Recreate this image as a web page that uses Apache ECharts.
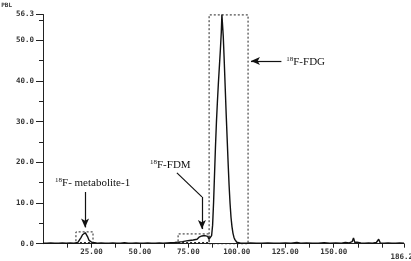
<!DOCTYPE html>
<html>
<head>
<meta charset="utf-8">
<script src="https://cdn.jsdelivr.net/npm/echarts@6/dist/echarts.min.js"></script>
<style>html,body{margin:0;padding:0;background:#fff}#c{width:411px;height:261px}</style>
</head>
<body>
<div id="c"></div>
<script>
// Retention time (x) and detector signal (PBL)
const times = [0,2,4,6,8,10,12,14,16,17,18,18.8,19.6,20.4,21.2,21.8,22.4,23.1,23.8,24.5,25.3,26,26.7,28,30,32,34,36,38,40,42,44,46,48,50,52,54,56,58,60,62,64,66,68,70,72,74,75.5,76.5,77.5,78.5,79.5,80.5,81.2,82,82.8,83.5,84.2,85,85.6,86.1,86.6,87,87.5,88,88.5,89,89.5,90,90.5,91,91.5,92,92.3,92.6,93,93.5,94,94.5,95,95.5,96,96.5,97,97.5,98,98.5,99,99.5,100,101,102,103,105,107,110,113,116,119,122,125,128,131,133,136,139,142,145,148,151,154,156,158,159.5,160.2,160.9,162,164,166,168,170,172,173.2,174,176,178,180,182,184,186.26];
const signal = [0.15,0.1,0.2,0.1,0.15,0.2,0.1,0.2,0.15,0.2,0.3,0.7,1.5,2.2,2.6,2.7,2.4,1.6,0.8,0.35,0.3,0.55,0.25,0.15,0.2,0.1,0.15,0.2,0.1,0.15,0.25,0.1,0.15,0.2,0.1,0.15,0.2,0.1,0.15,0.2,0.15,0.2,0.25,0.3,0.4,0.5,0.7,0.8,1.0,0.9,1.3,1.1,1.6,1.3,1.9,1.5,2.0,1.6,1.8,1.1,0.7,1.0,2.0,4.5,10,17,24,30,35,39.5,43.5,47.5,52,56.3,56.0,51,45,38.5,32,26,20,14.5,10,6.5,4.2,2.6,1.6,1.0,0.6,0.35,0.2,0.1,0.15,0.1,0.2,0.1,0.15,0.2,0.1,0.15,0.2,0.1,0.3,0.15,0.2,0.1,0.15,0.25,0.1,0.2,0.15,0.3,0.2,0.5,1.4,0.3,0.4,0.2,0.15,0.2,0.1,0.3,1.1,0.2,0.15,0.2,0.1,0.15,0.2,0.15];

// Dotted boxes around peaks: [x1, y1, x2, y2]
const boxes = [[17.0, 0.3, 25.8, 2.9], [69.7, 0.3, 85.7, 2.4], [85.7, 0.0, 105.8, 56.2]];
// Arrows: [x1, y1, x2, y2, headAtEnd]
const arrows = [[21.7, 12.7, 21.7, 4.0, true], [69.1, 17.4, 82.0, 11.5, false], [82.0, 11.5, 82.0, 3.6, true], [123.0, 44.9, 107.3, 44.9, true]];
// Peak labels: [x, y, superscript, text]
const peakLabels = [[6.2, 14.9, '18', 'F- metabolite-1'], [55.2, 19.3, '18', 'F-FDM'], [125.5, 44.7, '18', 'F-FDG']];

const yMax = 56.3, xMax = 186.26;
const data = times.map((t, i) => [t, signal[i]]);

const chart = echarts.init(document.getElementById('c'), null, {renderer: 'canvas'});
const monoLabel = {fontFamily: 'DejaVu Sans Mono', fontWeight: 'bold', fontSize: 7.5, color: '#333'};
chart.setOption({
  animation: false,
  grid: {left: 43, right: 7, top: 14.5, bottom: 17.3, containLabel: false, outerBoundsMode: 'none'},
  xAxis: {
    type: 'value', min: 0, max: xMax, interval: 12.5,
    axisLine: {lineStyle: {color: '#222', width: 1}},
    axisTick: {length: 4, lineStyle: {color: '#222'}},
    splitLine: {show: false},
    axisLabel: Object.assign({}, monoLabel, {
      margin: 4, showMaxLabel: true, showMinLabel: false,
      formatter: v => (v === xMax ? '{e|186.26}' : (v > 0 && v < 175 && v % 25 === 0 ? v.toFixed(2) : '')),
      rich: {e: {fontFamily: 'DejaVu Sans Mono', fontWeight: 'bold', fontSize: 7.5, color: '#333', padding: [5, 0, 0, 0]}}
    })
  },
  yAxis: [{
    type: 'value', min: 0, max: yMax, interval: 10,
    name: 'PBL', nameLocation: 'end', nameGap: 6,
    nameTextStyle: {fontFamily: 'DejaVu Sans Mono', fontWeight: 'bold', fontSize: 6, color: '#333', align: 'right', padding: [0, 31, 0, 0]},
    axisLine: {show: true, lineStyle: {color: '#222', width: 1}},
    axisTick: {show: true, length: 7, lineStyle: {color: '#222'}},
    splitLine: {show: false},
    axisLabel: Object.assign({}, monoLabel, {margin: 9, showMaxLabel: true, formatter: v => v.toFixed(1)})
  }, {
    type: 'value', min: 0, max: yMax, interval: 5, position: 'left',
    axisLine: {show: false},
    axisTick: {show: true, length: 4, lineStyle: {color: '#222'}},
    splitLine: {show: false},
    axisLabel: {show: false}
  }],
  series: [{
    type: 'line', data: data, showSymbol: false, symbol: 'none',
    lineStyle: {color: '#111', width: 1.4},
    markArea: {
      silent: true,
      itemStyle: {color: 'rgba(0,0,0,0)', borderColor: '#222', borderWidth: 1, borderType: [2, 2]},
      label: {show: false},
      data: boxes.map(b => [{coord: [b[0], b[1]]}, {coord: [b[2], b[3]]}])
    },
    markLine: {
      silent: true, symbolSize: [6, 9],
      lineStyle: {color: '#111', width: 1.2, type: 'solid'},
      label: {show: false},
      data: arrows.map(a => [{coord: [a[0], a[1]], symbol: 'none'}, {coord: [a[2], a[3]], symbol: a[4] ? 'arrow' : 'none'}])
    },
    markPoint: {
      silent: true, symbol: 'circle', symbolSize: 0,
      itemStyle: {color: 'rgba(0,0,0,0)'},
      label: {
        show: true, position: [0, 0], align: 'left', verticalAlign: 'middle',
        formatter: p => '{s|' + p.data.sup + '}{t|' + p.data.txt + '}',
        rich: {
          s: {fontFamily: 'Liberation Serif', fontSize: 7, color: '#111', verticalAlign: 'top', padding: [0, 0, 6, 0]},
          t: {fontFamily: 'Liberation Serif', fontSize: 11, color: '#111'}
        }
      },
      data: peakLabels.map(l => ({coord: [l[0], l[1]], sup: l[2], txt: l[3]}))
    }
  }]
});
</script>
</body>
</html>
